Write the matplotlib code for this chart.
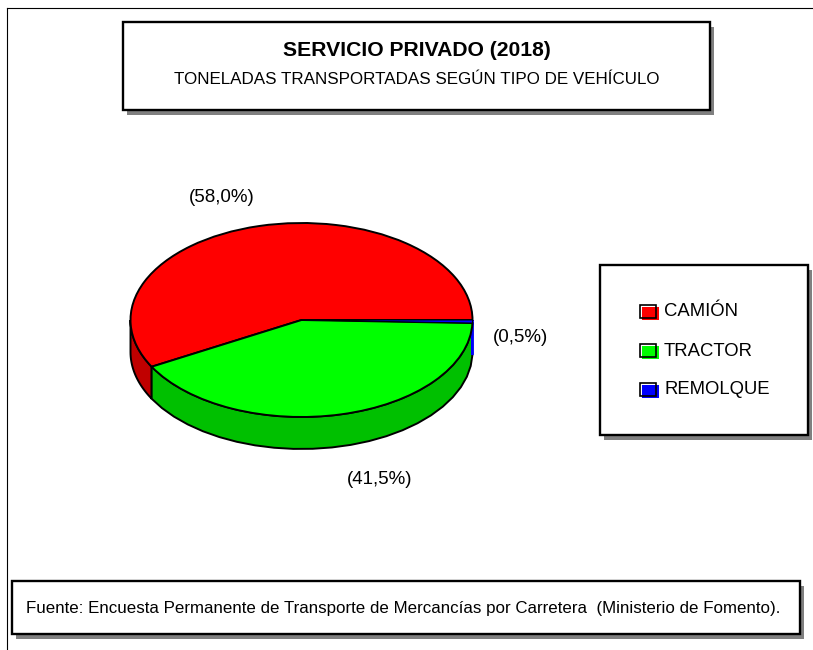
import matplotlib
matplotlib.use('Agg')
import matplotlib.pyplot as plt
from matplotlib.patches import Rectangle
import numpy as np

plt.rcParams['font.family'] = ['Liberation Sans', 'DejaVu Sans']

#%% Data
categories = ['CAMIÓN', 'TRACTOR', 'REMOLQUE']
shares = [58.0, 41.5, 0.5]
share_labels = ['(58,0%)', '(41,5%)', '(0,5%)']
top_colors = ['#ff0000', '#00ff00', '#0000ff']
side_colors = ['#c00000', '#00c000', '#0000ff']
title = 'SERVICIO PRIVADO (2018)'
subtitle = 'TONELADAS TRANSPORTADAS SEGÚN TIPO DE VEHÍCULO'
source = 'Fuente: Encuesta Permanente de Transporte de Mercancías por Carretera  (Ministerio de Fomento).'

W, H = 813, 650
fig = plt.figure(figsize=(W/100, H/100), dpi=100, facecolor='white')

# page axes in pixel units, so the boxes can be placed like in the picture
page = fig.add_axes([0, 0, 1, 1])
page.set_xlim(0, W)
page.set_ylim(H, 0)
page.axis('off')

def box(x0, y0, x1, y1, lw=1.7):
    page.add_patch(Rectangle((x0+4, y0+5), x1-x0, y1-y0, fc='#808080', ec='none', zorder=1))
    page.add_patch(Rectangle((x0, y0), x1-x0, y1-y0, fc='white', ec='black', lw=lw, zorder=2))

# outer frame
page.plot([7, 7], [H, 8], color='black', lw=0.8)
page.plot([7, W], [8, 8], color='black', lw=0.8)

box(123, 22, 710, 110)
page.text(417, 51, title, ha='center', va='center', fontsize=15.2, fontweight='bold', zorder=3)
page.text(417, 79, subtitle, ha='center', va='center', fontsize=12.25, zorder=3)

box(600, 265, 808, 435)
legend_y = [311, 350, 389]
for name, top, y in zip(categories, top_colors, legend_y):
    page.add_patch(Rectangle((642, y-4), 17, 13, fc=top, ec='none', zorder=3))
    page.add_patch(Rectangle((640, y-6), 16, 13, fc='none', ec='black', lw=1.2, zorder=4))
    page.text(664, y+1, name, ha='left', va='center', fontsize=13.3, zorder=3)

box(12, 581, 800, 634)
page.text(403.5, 608, source, ha='center', va='center', fontsize=12.2, zorder=3)

#%% Pie
cx, cy, rx, ry, depth = 301.5, 320, 171, 97, 32
pie_ax = fig.add_axes([(cx-rx)/W, 1-(cy+ry)/H, 2*rx/W, 2*ry/H])
pie_ax.patch.set_alpha(0)
d = depth/ry

# side wall first, only the front half (180-360 deg) shows
edges = np.cumsum([0] + shares) / sum(shares) * 360
for i in range(len(shares)):
    a0, a1 = max(edges[i], 180), edges[i+1]
    if a1 <= a0:
        continue
    t = np.radians(np.linspace(a0, a1, 24))
    xs = np.r_[np.cos(t), np.cos(t[::-1])]
    ys = np.r_[np.sin(t), np.sin(t[::-1]) - d]
    ec = top_colors[i] if i == 2 else 'black'
    pie_ax.fill(xs, ys, fc=side_colors[i], ec=ec, lw=1.4, clip_on=False)

wedges, _ = pie_ax.pie(shares, colors=top_colors, startangle=0, counterclock=True,
                       wedgeprops=dict(edgecolor='black', linewidth=1.4, clip_on=False))
wedges[2].set_linewidth(0.7)
pie_ax.set_aspect('auto')
pie_ax.set_xlim(-1, 1)
pie_ax.set_ylim(-1, 1)
pie_ax.axis('off')

label_pos = [(222, 197), (379.5, 480), (520, 338)]
for lab, (x, y) in zip(share_labels, label_pos):
    page.text(x, y, lab, ha='center', va='center', fontsize=13.5, zorder=3)

fig.savefig('out.png', dpi=100)
